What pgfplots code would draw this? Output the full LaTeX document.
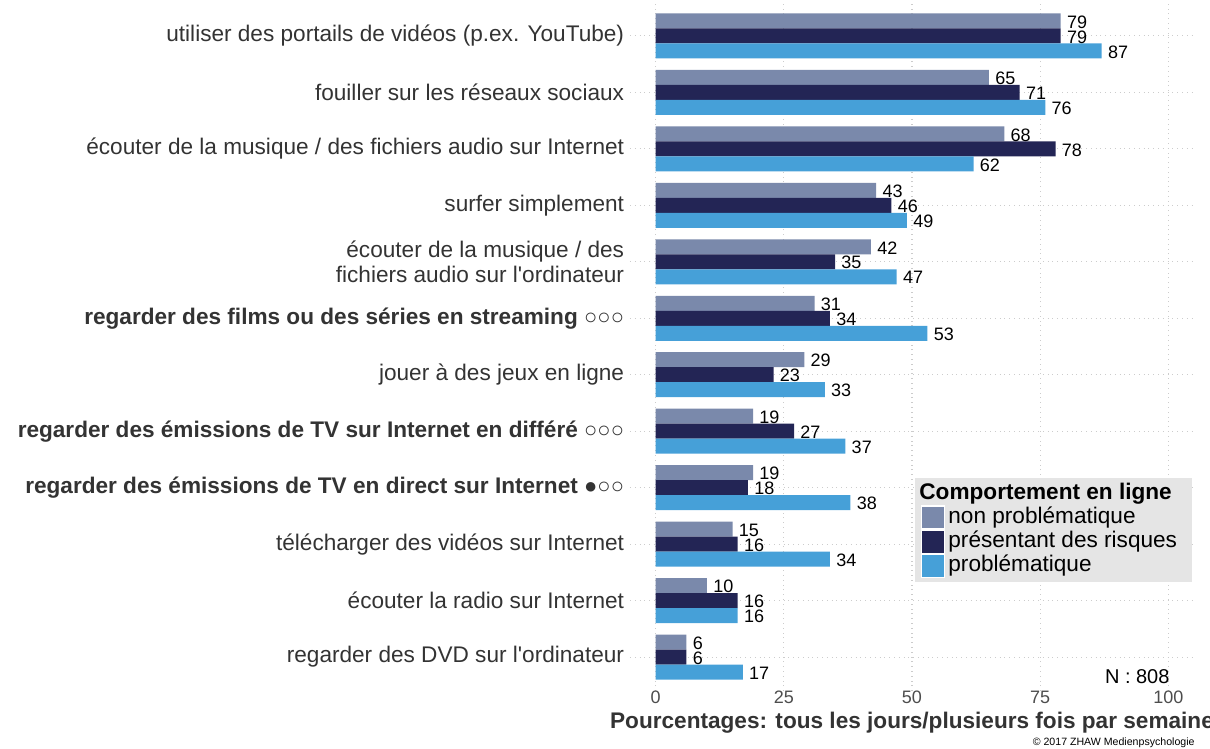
\documentclass[border=0pt]{standalone}
\usepackage{pgfplots}
\pgfplotsset{compat=1.18}
\usepackage{pgfplotstable}
\usepackage{fontspec}
\setmainfont{Liberation Sans}[Ligatures=TeXOff]

\definecolor{cA}{HTML}{7A89AB}
\definecolor{cB}{HTML}{232555}
\definecolor{cC}{HTML}{46A0D8}
\definecolor{legbg}{HTML}{E5E5E5}
\definecolor{gridc}{HTML}{CCCCCC}
\definecolor{cattxt}{HTML}{333333}
\definecolor{ticktxt}{HTML}{4D4D4D}

\newcommand\catfont{\fontsize{11.3}{12.8}\selectfont}
\newcommand\numfont{\fontsize{9}{11}\selectfont}
\newcommand\circfont{\mdseries\fontsize{11}{12}\selectfont}

% pos: 11 = top category
\pgfplotstableread{
pos a  b  c
11  79 79 87
10  65 71 76
9   68 78 62
8   43 46 49
7   42 35 47
6   31 34 53
5   29 23 33
4   19 27 37
3   19 18 38
2   15 16 34
1   10 16 16
0   6  6  17
}\datatab

\begin{document}
\begin{tikzpicture}
\begin{axis}[
    at={(315pt,29pt)}, anchor=south west,
    scale only axis, width=282pt, height=344.5pt,
    xbar, bar width=7.5pt,
    xmin=-5, xmax=105, ymin=-0.6, ymax=11.6,
    /pgf/number format/assume math mode=true,
    xtick={0,25,50,75,100},
    ytick={0,...,11},
    yticklabels={
      regarder des DVD sur l'ordinateur,
      écouter la radio sur Internet,
      télécharger des vidéos sur Internet,
      {\bfseries regarder des émissions de TV en direct sur Internet} {\circfont ●○○},
      {\bfseries regarder des émissions de TV sur Internet en différé} {\circfont ○○○},
      jouer à des jeux en ligne,
      {\bfseries regarder des films ou des séries en streaming} {\circfont ○○○},
      {écouter de la musique / des\\fichiers audio sur l'ordinateur},
      surfer simplement,
      écouter de la musique / des fichiers audio sur Internet,
      fouiller sur les réseaux sociaux,
      utiliser des portails de vidéos (p.ex. YouTube)},
    yticklabel style={font=\catfont, text=cattxt, align=right, inner xsep=1.5pt, xshift=3pt},
    xticklabel style={font=\numfont, text=ticktxt, inner ysep=0pt},
    grid=major,
    major grid style={dotted, draw=gridc, line width=0.6pt},
    axis line style={draw=none},
    tick style={draw=none},
    clip=false,
    xlabel={\bfseries Pourcentages: tous les jours/plusieurs fois par semaine},
    xlabel style={at={(axis description cs:0.5,0)}, anchor=base, yshift=-19pt,
      font=\catfont, text=cattxt},
    nodes near coords,
    every node near coord/.append style={font=\numfont, text=black, inner xsep=3pt, yshift=-0.5pt},
    legend image code/.code={\draw[#1, draw=white, line width=0.6pt] (0pt,-5.75pt) rectangle (11.5pt,5.75pt);},
    legend style={at={(axis description cs:0.505,0.309)}, anchor=north west,
      fill=legbg, draw=none, inner xsep=3pt, inner ysep=2pt, row sep=0pt,
      font=\catfont, legend cell align=left,
      nodes={inner xsep=1.5pt, inner ysep=0pt, text height=8.5pt, text depth=3pt}},
]
\addlegendimage{empty legend}
\addlegendentry{\hspace*{-14.5pt}\bfseries Comportement en ligne}
\addplot[fill=cA, draw=none, bar shift=7.5pt] table[x=a, y=pos] {\datatab};
\addlegendentry{non problématique}
\addplot[fill=cB, draw=none, bar shift=0pt] table[x=b, y=pos] {\datatab};
\addlegendentry{présentant des risques\hspace*{3pt}}
\addplot[fill=cC, draw=none, bar shift=-7.5pt] table[x=c, y=pos] {\datatab};
\addlegendentry{problématique}
\node[anchor=east, font=\fontsize{10}{12}\selectfont, inner sep=0pt] at (axis cs:100.3,-0.35) {N : 808};
\end{axis}
\node[anchor=base east, font=\fontsize{5.3}{6}\selectfont, inner sep=0pt] at (597.5pt,1.5pt) {© 2017 ZHAW Medienpsychologie};
\pgfresetboundingbox
\useasboundingbox (0,0) rectangle (605pt,374.5pt);
\end{tikzpicture}
\end{document}
